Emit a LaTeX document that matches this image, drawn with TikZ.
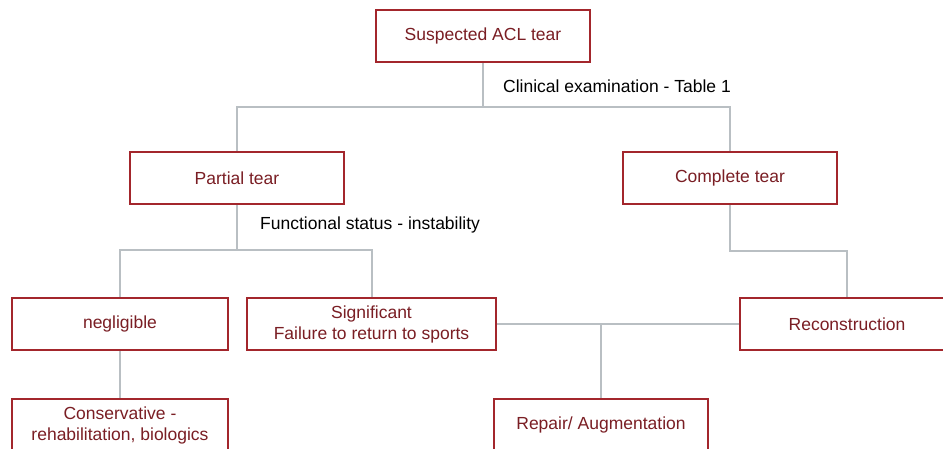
\documentclass[tikz,border=0pt]{standalone}
\usepackage{fontspec}
\setmainfont{Liberation Sans}
\definecolor{boxred}{HTML}{A3262C}
\definecolor{txtred}{HTML}{7A1E24}
\definecolor{linegray}{HTML}{B9BFC3}
\begin{document}
\begin{tikzpicture}[x=1pt,y=-1pt,
  box/.style={draw=boxred, line width=2.6pt, fill=white, minimum width=214pt, minimum height=52pt,
    inner sep=0pt, align=center, text=txtred, font=\fontsize{17.5}{21}\selectfont},
  conn/.style={draw=linegray, line width=2pt},
  lbl/.style={anchor=west, text=black, font=\fontsize{17.5}{21}\selectfont, inner sep=0pt}]
\useasboundingbox (0,0) rectangle (943,448);
\clip (0,0) rectangle (943,448);
\fill[white] (0,0) rectangle (943,448);
% junction coordinates
\coordinate (j1) at (483,107);
\coordinate (j2) at (237,250);
\coordinate (j3) at (601,324);
\coordinate (j4) at (730,251);
% connectors (drawn first, boxes on top)
\draw[conn] (483,36) -- (j1);
\draw[conn] (237,178) |- (j1) -| (730,178);
\draw[conn] (237,178) -- (j2);
\draw[conn] (120,324) |- (j2) -| (371.5,324);
\draw[conn] (730,178) |- (j4) -| (847,324);
\draw[conn] (371.5,324) -- (847,324);
\draw[conn] (j3) -- (601,425);
\draw[conn] (120,324) -- (120,425);
% nodes
\node[box] (acl) at (483,36) {Suspected ACL tear};
\node[box] (partial) at (237,178) {Partial tear};
\node[box] (complete) at (730,178) {Complete tear};
\node[box, minimum width=216pt] (negl) at (120,324) {negligible};
\node[box, minimum width=249pt] (signif) at (371.5,324) {Significant\\Failure to return to sports};
\node[box] (recon) at (847,324) {Reconstruction};
\node[box, minimum width=216pt] (cons) at (120,425) {Conservative -\\rehabilitation, biologics};
\node[box] (repair) at (601,425) {Repair/ Augmentation};
% labels
\node[lbl] (lab1) at (503,86) {Clinical examination - Table 1};
\node[lbl] (lab2) at (260,225) {Functional status - instability};
\end{tikzpicture}
\end{document}
